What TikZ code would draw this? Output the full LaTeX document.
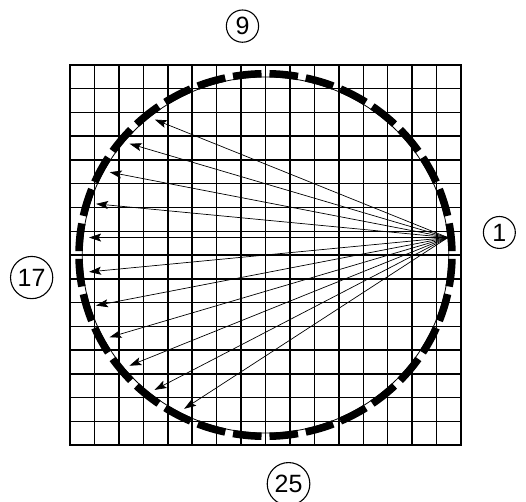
\documentclass[tikz,border=0pt]{standalone}
\usepackage{fontspec}
\setmainfont{Liberation Sans}
\usetikzlibrary{arrows.meta,calc}
\tikzset{
  >=Stealth,
  gridline/.style={line width=1.5pt},
  ring/.style={line width=0.8pt},
}

\begin{document}
\begin{tikzpicture}[
  x=1pt, y=1pt,
  ringdash/.style={line width=7.5pt},
  ray/.style={->, >={Stealth[length=12pt,width=8pt,inset=2.5pt]}, line width=0.7pt, shorten >=6pt},
  num/.style={circle, draw, line width=1.1pt, inner sep=3.5pt, minimum size=31pt, font=\fontsize{25}{25}\selectfont}
]
  \useasboundingbox (0,0) rectangle (526,501);
  \draw[gridline, shift={(70,56)}, xstep=24.4375, ystep=23.75] (0,0) grid (391.01,380.01);
  \draw[gridline] (70,56) rectangle (461,436);
  \coordinate (c) at (265.5,246);
  \draw[ring] (c) ellipse[x radius=183.3, y radius=178.1];
  \foreach \k in {1,...,32}{
    \pgfmathsetmacro\a{5.625+11.25*(\k-1)}
    \pgfmathsetmacro\b{\a-4.4}
    \pgfmathsetmacro\e{\a+4.4}
    \coordinate (p\k) at ($(c)+(\a:183.3 and 178.1)$);
    \draw[ringdash] ($(c)+(\b:186.5 and 181.3)$) arc[start angle=\b, end angle=\e, x radius=186.5, y radius=181.3];
  }
  \foreach \k in {12,...,22}
    \draw[ray] (p1) -- (p\k);
  \node[num] (n1) at ($(c)+(5.625:235 and 230)$) {1};
  \node[num] (n9) at ($(c)+(95.625:235 and 230)$) {9};
  \node[num] (n17) at ($(c)+(185.625:235 and 230)$) {17};
  \node[num] (n25) at ($(c)+(275.625:235 and 230)$) {25};
\end{tikzpicture}
\end{document}
